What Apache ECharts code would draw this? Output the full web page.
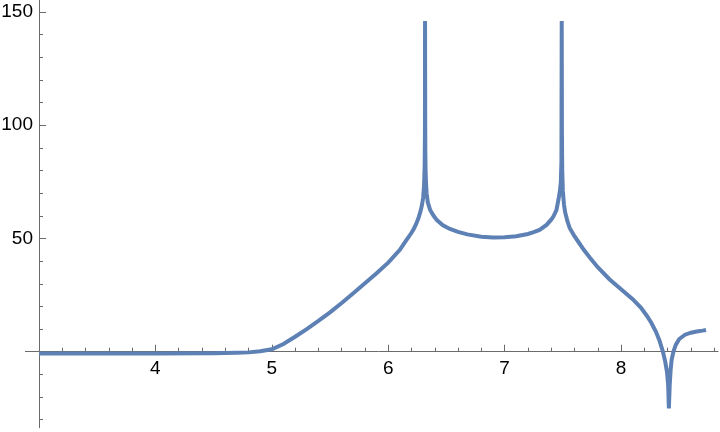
<!DOCTYPE html>
<html>
<head>
<meta charset="utf-8">
<script src="https://cdn.jsdelivr.net/npm/echarts@6/dist/echarts.min.js"></script>
<style>
html,body{margin:0;padding:0;background:#fff;}
#chart{width:720px;height:432px;}
</style>
</head>
<body>
<div id="chart"></div>
<script>
const xs = [3.0,3.5,4.0,4.5,4.7,4.8,4.9,5.0,5.1,5.2,5.3,5.4,5.5,5.6,5.7,5.8,5.9,6.0,6.1,6.15,6.2,6.22,6.24,6.26,6.28,6.29,6.3,6.308,6.313,6.3155,6.3163,6.3173,6.318,6.319,6.321,6.325,6.33,6.34,6.36,6.39,6.42,6.47,6.53,6.6,6.68,6.8,6.9,7.0,7.1,7.2,7.25,7.3,7.36,7.4,7.42,7.445,7.462,7.475,7.483,7.488,7.4905,7.4915,7.4925,7.495,7.5,7.51,7.52,7.54,7.56,7.6,7.64,7.68,7.74,7.8,7.9,8.0,8.1,8.17,8.22,8.26,8.3,8.33,8.36,8.38,8.395,8.405,8.411,8.413,8.418,8.426,8.435,8.45,8.47,8.5,8.55,8.6,8.65,8.7,8.73];
const ys = [-0.8,-0.8,-0.8,-0.7,-0.5,-0.3,0.2,1.1,3.4,6.6,10.0,13.6,17.4,21.5,25.8,30.2,34.6,39.3,45,48.8,52.5,54.3,56.4,59,62.5,64.8,68,73.5,82,97,146,146,100,88,80,74,70,66,62.6,60,58,55.8,54.2,52.9,51.8,50.8,50.4,50.5,51,52,52.8,53.8,56,58.3,59.8,62.5,67,71,75,84,146,146,95,80,71,65,61.5,57.5,54.5,51,48,45,41,37.3,32,27.6,23.2,19.5,16,12.8,8.8,5,0,-4.5,-9,-15,-25,-25,-15,-8,-3.5,0,3,5.6,7.5,8.4,8.9,9.3,9.6];

const xMajorTicks = [4,5,6,7,8];
const xMinorTicks = [3.2,3.4,3.6,3.8,4.2,4.4,4.6,4.8,5.2,5.4,5.6,5.8,6.2,6.4,6.6,6.8,7.2,7.4,7.6,7.8,8.2,8.4,8.6,8.8];
const yMajorTicks = [50,100,150];
const yMinorTicks = [-30,-20,-10,10,20,30,40,60,70,80,90,110,120,130,140];
const yZeroTick = [0];

const X_MIN = 3, X_MAX = 8.833;
const Y_MIN = -33.56, Y_MAX = 155.3;
const GRID = {left: 39, right: 2, top: 0, bottom: 4.3};
const H = 432;
const gridH = H - GRID.top - GRID.bottom;
// shift the x axis from the grid bottom up to y = 0
const xAxisOffset = -gridH * (0 - Y_MIN) / (Y_MAX - Y_MIN);

const AXIS_COLOR = '#6a6a6a';
const FONT = '"Liberation Sans", Arial, Helvetica, sans-serif';

const data = xs.map((x, i) => [x, ys[i]]);

const chart = echarts.init(document.getElementById('chart'), null, {renderer: 'canvas'});

const baseX = {
  type: 'value', min: X_MIN, max: X_MAX, position: 'bottom', offset: xAxisOffset,
  splitLine: {show: false}
};
const baseY = {
  type: 'value', min: Y_MIN, max: Y_MAX, position: 'left',
  splitLine: {show: false}
};

chart.setOption({
  animation: false,
  backgroundColor: '#ffffff',
  grid: Object.assign({containLabel: false, outerBoundsMode: 'none'}, GRID),
  xAxis: [
    Object.assign({}, baseX, {
      axisLine: {show: true, onZero: false, lineStyle: {color: AXIS_COLOR, width: 1}},
      axisTick: {show: true, inside: true, length: 7, customValues: xMajorTicks, lineStyle: {color: AXIS_COLOR, width: 1}},
      axisLabel: {show: true, customValues: xMajorTicks, margin: 8, color: '#000', fontSize: 19, fontFamily: FONT}
    }),
    Object.assign({}, baseX, {
      axisLine: {show: false, onZero: false},
      axisTick: {show: true, inside: true, length: 4, customValues: xMinorTicks, lineStyle: {color: AXIS_COLOR, width: 1}},
      axisLabel: {show: false}
    })
  ],
  yAxis: [
    Object.assign({}, baseY, {
      axisLine: {show: true, onZero: false, lineStyle: {color: AXIS_COLOR, width: 1}},
      axisTick: {show: true, inside: true, length: 7, customValues: yMajorTicks, lineStyle: {color: AXIS_COLOR, width: 1}},
      axisLabel: {show: true, customValues: yMajorTicks, margin: 6, color: '#000', fontSize: 19, fontFamily: FONT}
    }),
    Object.assign({}, baseY, {
      axisLine: {show: false, onZero: false},
      axisTick: {show: true, inside: true, length: 4, customValues: yMinorTicks, lineStyle: {color: AXIS_COLOR, width: 1}},
      axisLabel: {show: false}
    }),
    Object.assign({}, baseY, {
      axisLine: {show: false, onZero: false},
      axisTick: {show: true, inside: false, length: 14, customValues: yZeroTick, lineStyle: {color: AXIS_COLOR, width: 1}},
      axisLabel: {show: false}
    })
  ],
  series: [{
    type: 'line',
    xAxisIndex: 0,
    yAxisIndex: 0,
    data: data,
    showSymbol: false,
    smooth: false,
    clip: true,
    lineStyle: {color: '#5E81B5', width: 4, join: 'miter', cap: 'butt'},
    emphasis: {disabled: true},
    z: 1
  }]
});
</script>
</body>
</html>
